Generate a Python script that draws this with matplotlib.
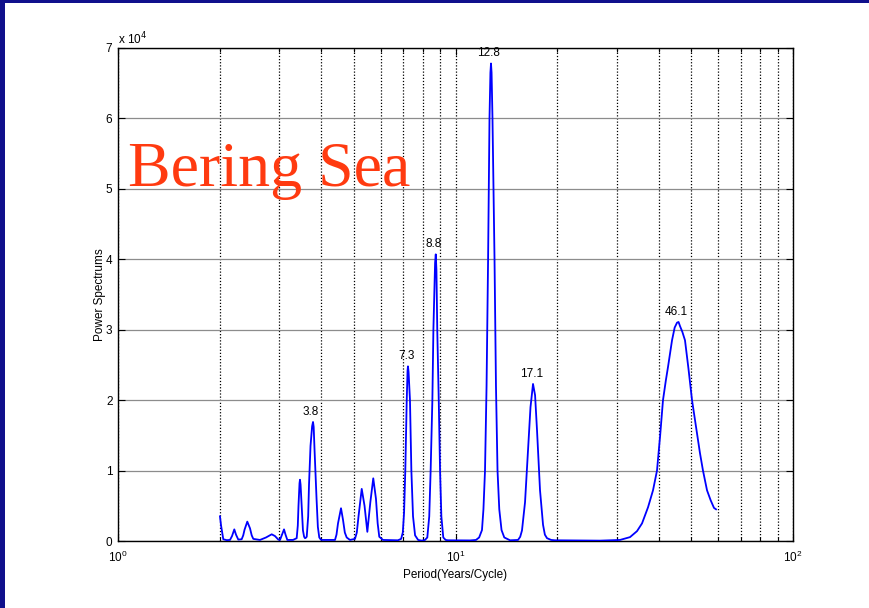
import matplotlib
matplotlib.use("Agg")
import matplotlib.pyplot as plt
from matplotlib.patches import Rectangle
from matplotlib.ticker import FuncFormatter, LogLocator, NullFormatter

plt.rcParams['font.family'] = ['Liberation Sans', 'DejaVu Sans']

# spectrum: period (years/cycle) and power
period = [2.005, 2.02, 2.051, 2.10, 2.147, 2.177, 2.211, 2.237, 2.272, 2.325,
          2.35, 2.371, 2.416, 2.461, 2.49, 2.517, 2.634, 2.745, 2.854, 2.919,
          2.985, 3.02, 3.062, 3.104, 3.136, 3.175, 3.30, 3.384, 3.41, 3.426,
          3.45, 3.461, 3.475, 3.497, 3.532, 3.56, 3.582, 3.60, 3.624, 3.66,
          3.681, 3.719, 3.76, 3.783, 3.80, 3.822, 3.875, 3.91, 3.948, 3.99,
          4.023, 4.395, 4.44, 4.486, 4.579, 4.642, 4.70, 4.76, 4.868, 5.037,
          5.10, 5.16, 5.274, 5.376, 5.48, 5.593, 5.706, 5.812, 5.88, 5.945,
          6.097, 6.75, 6.90, 6.98, 7.04, 7.10, 7.17, 7.21, 7.23, 7.26,
          7.33, 7.40, 7.484, 7.59, 7.75, 7.94, 8.12, 8.25, 8.36, 8.44,
          8.54, 8.60, 8.70, 8.74, 8.78, 8.83, 8.92, 9.00, 9.08, 9.20,
          9.35, 9.50, 11.04, 11.50, 11.75, 11.98, 12.10, 12.23, 12.36, 12.49,
          12.61, 12.69, 12.74, 12.79, 12.87, 13.05, 13.18, 13.32, 13.48, 13.69,
          13.95, 14.51, 15.32, 15.55, 15.74, 16.07, 16.40, 16.68, 16.97, 17.21,
          17.44, 17.80, 18.17, 18.40, 18.67, 19.20, 19.72, 26.80, 30.72, 32.89,
          34.50, 35.70, 37.20, 38.48, 39.54, 40.40, 41.19, 42.00, 42.62, 43.81,
          44.60, 45.33, 45.80, 46.27, 47.00, 47.86, 49.00, 50.21, 51.95, 53.00,
          54.11, 55.62, 57.00, 58.33, 59.15]
power = [3500, 2200, 250, 120, 150, 700, 1650, 900, 200, 250,
         800, 1600, 2750, 1800, 800, 300, 150, 500, 950, 700,
         200, 150, 900, 1650, 900, 150, 150, 400, 2200, 5000,
         8200, 8700, 8000, 5500, 1500, 600, 400, 450, 600, 3500,
         8000, 13500, 16300, 16900, 16200, 13000, 6000, 2000, 500, 200,
         150, 150, 900, 2500, 4650, 3000, 1200, 500, 150, 300,
         1200, 3500, 7400, 5000, 1300, 5500, 8900, 6000, 2500, 600,
         150, 100, 300, 1200, 4000, 10000, 20000, 24200, 24800, 24000,
         20000, 10000, 3500, 800, 150, 50, 150, 500, 3500, 10000,
         20000, 30000, 39500, 40700, 38500, 30000, 20000, 10000, 3500, 500,
         150, 100, 80, 150, 500, 1550, 4500, 10000, 22000, 40000,
         60000, 66500, 67800, 66500, 60000, 40000, 22000, 10000, 4500, 1550,
         500, 100, 150, 600, 1500, 5500, 13000, 19000, 22300, 20700,
         15700, 7200, 2300, 900, 400, 150, 100, 50, 150, 550,
         1400, 2500, 4800, 7200, 10000, 15000, 20000, 22800, 24700, 28500,
         30300, 31000, 31100, 30500, 29700, 28500, 24500, 20000, 15300, 12500,
         10000, 7200, 5800, 4700, 4500]

peak_labels = ['3.8', '7.3', '8.8', '12.8', '17.1', '46.1']
peak_power = [16900, 24800, 40700, 67800, 22300, 31100]

fig = plt.figure(figsize=(8.69, 6.08), dpi=100)
fig.patch.set_facecolor('white')
# slide frame
fig.patches.append(Rectangle((0, 1 - 3 / 608), 1, 3 / 608, transform=fig.transFigure,
                             facecolor='#10108c', edgecolor='none', zorder=0))
fig.patches.append(Rectangle((0, 0), 5 / 869, 1, transform=fig.transFigure,
                             facecolor='#10108c', edgecolor='none', zorder=0))

ax = fig.add_axes([118 / 869, 67 / 608, 675 / 869, 493 / 608])
ax.plot(period, power, color='#0000ff', lw=1.3, zorder=3)

ax.set_xscale('log')
ax.set_xlim(1, 100)
ax.set_ylim(0, 70000)
ax.set_yticks(range(0, 70001, 10000))
ax.yaxis.set_major_formatter(FuncFormatter(lambda v, p: '%d' % round(v / 10000)))
ax.xaxis.set_major_locator(LogLocator(base=10))
ax.xaxis.set_minor_locator(LogLocator(base=10, subs=range(2, 10)))
ax.xaxis.set_minor_formatter(NullFormatter())

# grid like matlab: dotted black verticals, grey horizontals
ax.grid(True, axis='x', which='both', color='black', linestyle=(0, (1, 1.5)), lw=0.9)
ax.grid(True, axis='y', which='major', color='#8c8c8c', linestyle='-', lw=0.9)

ax.tick_params(which='both', direction='in', top=True, right=True, labelsize=8.5,
               width=0.8)
ax.tick_params(axis='x', pad=6)
ax.tick_params(axis='y', pad=4)
ax.tick_params(which='major', length=5)
ax.tick_params(which='minor', length=3)
for s in ax.spines.values():
    s.set_linewidth(1.0)

ax.text(0.0, 1.002, r'x 10$^4$', transform=ax.transAxes, fontsize=8.5,
        ha='left', va='bottom')

ax.set_xlabel('Period(Years/Cycle)', fontsize=8.5, labelpad=3)
ax.set_ylabel('Power Spectrums', fontsize=8.5, labelpad=0)

for lab, pk in zip(peak_labels, peak_power):
    ax.annotate(lab, (float(lab), pk), xytext=(-3, 4), textcoords='offset pixels',
                ha='center', va='bottom', fontsize=8.5)

ax.text(0.015, 0.72, 'Bering Sea', transform=ax.transAxes, color='#ff3a10',
        fontsize=46, family='Liberation Serif', ha='left', va='baseline')

fig.savefig('out.png', dpi=100)
